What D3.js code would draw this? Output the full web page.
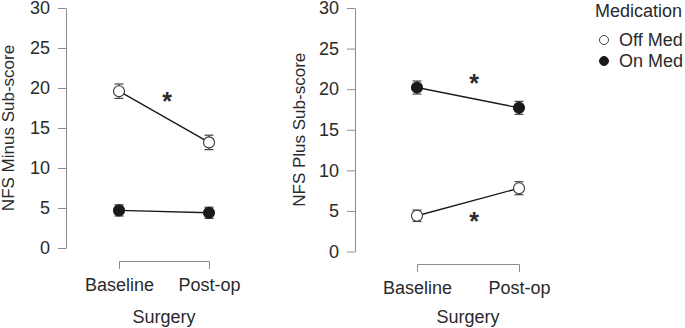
<!DOCTYPE html>
<html>
<head>
<meta charset="utf-8">
<script src="https://cdn.jsdelivr.net/npm/d3@7"></script>
<style>
  body { margin: 0; background: #fff; }
  svg text { font-family: "Liberation Sans", Arial, sans-serif; fill: #2a2a2a; }
  .y-axis path, .y-axis line, .x-axis path, .x-axis line { stroke: #8c8c8c; }
</style>
</head>
<body>
<svg id="chart" width="685" height="328"></svg>
<script>
// data
let timepoints = ["Baseline", "Post-op"];
let groups = ["Off Med", "On Med"];
let y_ticks = [0, 5, 10, 15, 20, 25, 30];

let minus_off = [19.6, 13.2], minus_off_se = [0.9, 0.9];
let minus_on  = [4.7, 4.4],   minus_on_se  = [0.7, 0.7];
let plus_off  = [4.4, 7.8],   plus_off_se  = [0.7, 0.8];
let plus_on   = [20.2, 17.7], plus_on_se   = [0.8, 0.8];

let svg = d3.select("#chart");

function render_panel(opts) {
    let y = d3.scaleLinear().domain([0, 30]).range([opts.y0, opts.y30]);
    let x = d3.scalePoint().domain(timepoints).range([opts.xb, opts.xp]).padding(0);

    // y axis
    let ya = svg.append("g")
        .classed("y-axis", true)
        .attr("transform", `translate(${opts.ax}, 0)`)
        .call(d3.axisLeft(y).tickValues(y_ticks).tickSize(8).tickSizeOuter(0).tickPadding(8));
    ya.selectAll("text").style("font-size", "18px");

    // x bracket axis
    let xa = svg.append("g")
        .classed("x-axis", true)
        .attr("transform", `translate(0, ${opts.bracket_y})`)
        .call(d3.axisBottom(x).tickSizeInner(0).tickSizeOuter(8).tickPadding(17));
    xa.selectAll("line").remove();
    xa.selectAll("text").style("font-size", "18px").attr("dy", "0.71em");

    svg.append("text")
        .attr("x", (opts.xb + opts.xp) / 2)
        .attr("y", opts.title_y)
        .attr("text-anchor", "middle")
        .style("font-size", "18px")
        .text("Surgery");

    svg.append("text")
        .attr("transform", `translate(${opts.label_x}, ${(opts.y0 + opts.y30) / 2}) rotate(-90)`)
        .attr("text-anchor", "middle")
        .style("font-size", "17px")
        .text(opts.label);

    // series
    opts.series.forEach((s) => {
        let pts = timepoints.map((t, i) => ({t: t, v: s.vals[i], se: s.se[i]}));
        let g = svg.append("g");
        g.append("path")
            .datum(pts)
            .attr("fill", "none")
            .attr("stroke", "#1a1a1a")
            .attr("stroke-width", 1.4)
            .attr("d", d3.line().x((d) => x(d.t)).y((d) => y(d.v)));
        let eb = g.selectAll("g.eb").data(pts).enter().append("g")
            .attr("stroke", "#444").attr("stroke-width", 1.2);
        eb.append("line")
            .attr("x1", (d) => x(d.t)).attr("x2", (d) => x(d.t))
            .attr("y1", (d) => y(d.v - d.se)).attr("y2", (d) => y(d.v + d.se));
        [1, -1].forEach((k) => {
            eb.append("line")
                .attr("x1", (d) => x(d.t) - 4.5).attr("x2", (d) => x(d.t) + 4.5)
                .attr("y1", (d) => y(d.v + k * d.se)).attr("y2", (d) => y(d.v + k * d.se));
        });
        g.selectAll("circle").data(pts).enter().append("circle")
            .attr("cx", (d) => x(d.t))
            .attr("cy", (d) => y(d.v))
            .attr("r", 5.5)
            .attr("fill", s.filled ? "#1a1a1a" : "#fff")
            .attr("stroke", s.filled ? "#1a1a1a" : "#333")
            .attr("stroke-width", 1.1);
    });

    // significance marks
    opts.stars.forEach((st) => {
        svg.append("text")
            .attr("x", st[0])
            .attr("y", y(st[1]))
            .attr("text-anchor", "middle")
            .style("font-size", "25px")
            .style("font-weight", "bold")
            .attr("dy", "0.55em")
            .text("*");
    });
}

render_panel({
    ax: 66, y0: 248, y30: 8, xb: 119, xp: 209, bracket_y: 261, title_y: 323, label_x: 14,
    label: "NFS Minus Sub-score",
    series: [
        {vals: minus_off, se: minus_off_se, filled: false},
        {vals: minus_on, se: minus_on_se, filled: true}
    ],
    stars: [[167, 19.0]]
});

render_panel({
    ax: 355, y0: 251.5, y30: 8, xb: 417, xp: 519, bracket_y: 264, title_y: 323, label_x: 305,
    label: "NFS Plus Sub-score",
    series: [
        {vals: plus_off, se: plus_off_se, filled: false},
        {vals: plus_on, se: plus_on_se, filled: true}
    ],
    stars: [[474, 21.3], [474, 4.4]]
});

// legend
let legend = svg.append("g");
legend.append("text").attr("x", 595).attr("y", 17).style("font-size", "18px").text("Medication");
let lg = legend.selectAll("g.item").data(groups).enter().append("g")
    .attr("transform", (d, i) => `translate(604, ${40 + i * 21})`);
lg.append("circle")
    .attr("r", 4.5)
    .attr("fill", (d, i) => i === 1 ? "#1a1a1a" : "#fff")
    .attr("stroke", (d, i) => i === 1 ? "#1a1a1a" : "#444");
lg.append("text").attr("x", 15).attr("dy", "0.35em").style("font-size", "18px").text((d) => d);
</script>
</body>
</html>
